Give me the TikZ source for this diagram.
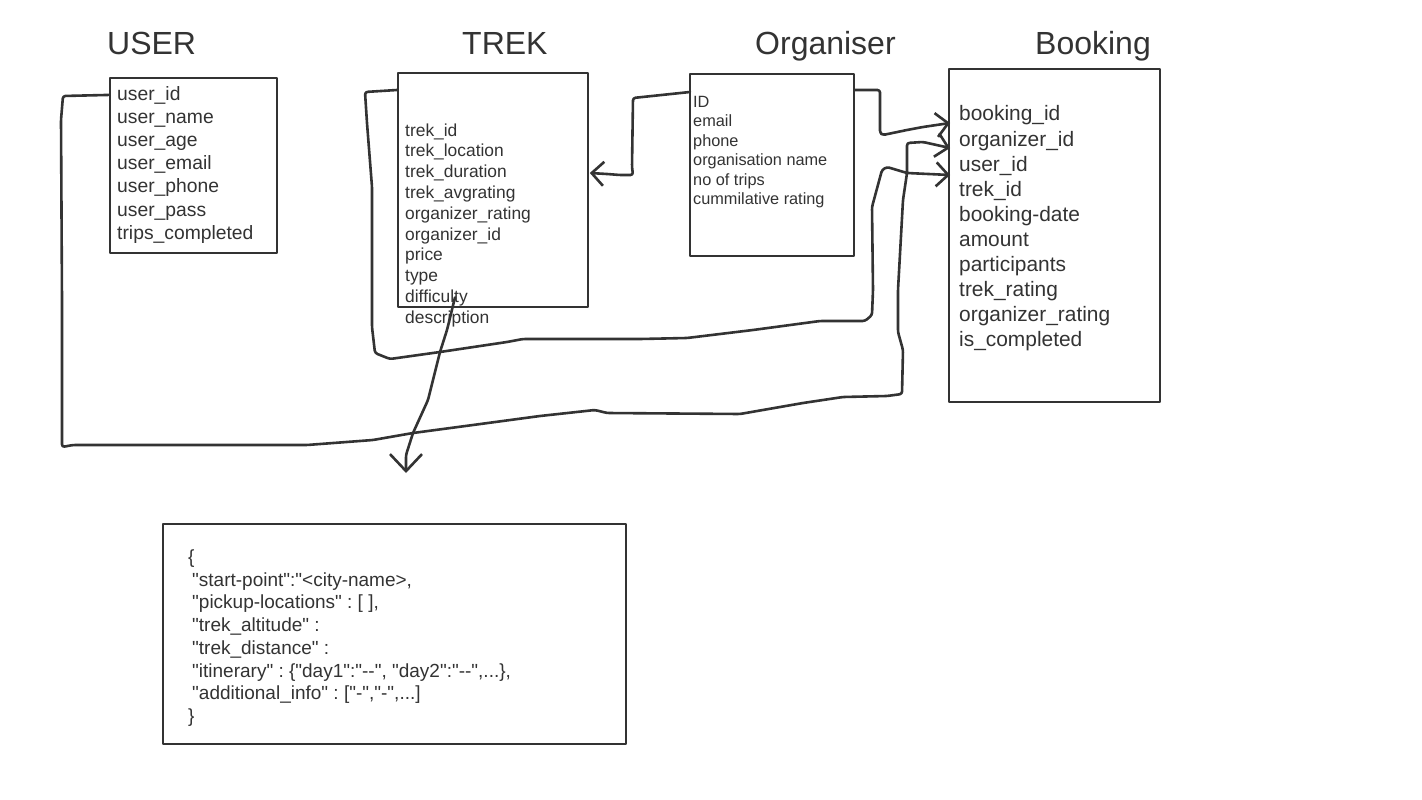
\documentclass[tikz,border=0pt]{standalone}
\usepackage{fontspec}
\setmainfont{Liberation Sans}
\newfontfamily\plainfont{Liberation Sans}
\usetikzlibrary{arrows.meta,calc}
\definecolor{ink}{HTML}{333333}
\frenchspacing
\newcommand\fntU{\plainfont\fontsize{19.3}{23}\selectfont}
\newcommand\fntT{\plainfont\fontsize{17.4}{21}\selectfont}
\newcommand\fntO{\plainfont\fontsize{16.3}{19.5}\selectfont}
\newcommand\fntB{\plainfont\fontsize{20.9}{25}\selectfont}
\newcommand\fntJ{\plainfont\fontsize{19}{23}\selectfont\frenchspacing}
\begin{document}
\begin{tikzpicture}[x=1pt,y=-1pt, line join=round, line cap=round,
  box/.style={draw=ink, line width=1.8pt, inner sep=0pt, anchor=north west},
  ttl/.style={inner sep=0pt, anchor=base west, text=ink, font=\plainfont\fontsize{32}{38}\selectfont},
  fld/.style={inner sep=0pt, anchor=base west, text=ink},
  wire/.style={draw=ink, line width=2.6pt, rounded corners=2.5pt},
  tip/.style={-{Straight Barb[length=12pt,width=24pt]}},
  bigtip/.style={-{Straight Barb[length=17pt,width=32pt]}}]
\fill[white] (0,0) rectangle (1422,800);
\useasboundingbox (0,0) rectangle (1422,800);

% titles
\node[ttl] (utitle) at (107,55) {USER};
\node[ttl] (ttitle) at (462,55) {TREK};
\node[ttl] (otitle) at (755,55) {Organiser};
\node[ttl] (btitle) at (1035,55) {Booking};

% boxes
\node[box, minimum width=167pt, minimum height=175pt] (ubox) at (109,77) {};
\node[box, minimum width=190pt, minimum height=234pt] (tbox) at (397,72) {};
\node[box, minimum width=164pt, minimum height=182pt] (obox) at (689,73) {};
\node[box, minimum width=211pt, minimum height=333pt] (bbox) at (948,68) {};
\node[box, minimum width=463pt, minimum height=220pt] (jbox) at (162,523) {};

% fields
\foreach \nm [count=\i from 0] in {user\_id,user\_name,user\_age,user\_email,user\_phone,user\_pass,trips\_completed}
  \node[fld, font=\fntU] (u\i) at (117,{100+23.2*\i}) {\nm};
\foreach \nm [count=\i from 0] in {trek\_id,trek\_location,trek\_duration,trek\_avgrating,organizer\_rating,organizer\_id,price,type,difficulty,description}
  \node[fld, font=\fntT] (t\i) at (405,{136+20.8*\i}) {\nm};
\foreach \nm [count=\i from 0] in {ID,email,phone,organisation name,no of trips,cummilative rating}
  \node[fld, font=\fntO] (o\i) at (693,{107+19.5*\i}) {\nm};
\foreach \nm [count=\i from 0] in {booking\_id,organizer\_id,user\_id,trek\_id,booking-date,amount,participants,trek\_rating,organizer\_rating,is\_completed}
  \node[fld, font=\fntB] (b\i) at (959,{121+25.1*\i}) {\nm};

% json
\node[fld, font=\fntJ] (j0) at (188,563.5) {\{};
\node[fld, font=\fntJ] (j1) at (192,586.2) {"start-point":"<city-name>,};
\node[fld, font=\fntJ] (j2) at (192,608.9) {"pickup-locations" : [ ],};
\node[fld, font=\fntJ] (j3) at (192,631.6) {"trek\_altitude" :};
\node[fld, font=\fntJ] (j4) at (192,654.3) {"trek\_distance" :};
\node[fld, font=\fntJ] (j5) at (192,677.0) {"itinerary" : \{"day1":"--", "day2":"--",...\},};
\node[fld, font=\fntJ] (j6) at (192,699.7) {"additional\_info" : ["-","-",...]};
\node[fld, font=\fntJ] (j7) at (188,722.4) {\}};

% connector end points
\coordinate (tipA) at ($(bbox.north west)+(2,55)$);
\coordinate (tipB) at ($(bbox.north west)+(2,80)$);
\coordinate (tipC) at ($(bbox.north west)+(2,107)$);
\coordinate (tin) at ($(tbox.north east)+(1,101)$);
\coordinate (jin) at ($(jbox.north west)+(244,-50)$);

% USER -> Booking
\draw[wire, tip] (ubox.west |- u0) -- (63,96) -- (61,120) -- (62,300) -- (62,447) -- (73,445) -- (307,445) -- (373,440) -- (413,433) -- (473,425) -- (540,416) -- (595,410) -- (607,413) -- (740,414) -- (803,403) -- (843,397) -- (887,396) -- (902,394) -- (903,350) -- (898,332) -- (898,290) -- (903,200) -- (907,173) -- (907,143) -- (923,142) -- (tipB);

% TREK -> Booking
\draw[wire, tip] ($(tbox.north west)+(0,18)$) -- (365,92) -- (367,123) -- (372,187) -- (372,327) -- (375,353) -- (390,359) -- (440,352) -- (507,342) -- (523,339) -- (640,339) -- (687,338) -- (753,330) -- (820,321) -- (865,321) -- (872,315) -- (873,290) -- (872,207) -- (882,170) -- (887,167) -- (907,173) -- (tipC);

% Organiser -> Booking
\draw[wire, tip] ($(obox.north east)+(0,17)$) -- (880,90) -- (880,133) -- (883,135) -- (907,130) -- (923,127) -- (tipA);

% Organiser -> TREK
\draw[wire, tip] ($(obox.north west)+(1,19)$) -- (633,98) -- (632,167) -- (633,175) -- (620,175) -- (607,174) -- (tin);

% TREK -> JSON
\draw[wire, bigtip] ($(t8.base west)+(50,-5)$) -- (447,330) -- (440,352) -- (428,400) -- (413,433) -- (406,455) -- (jin);
\end{tikzpicture}
\end{document}
